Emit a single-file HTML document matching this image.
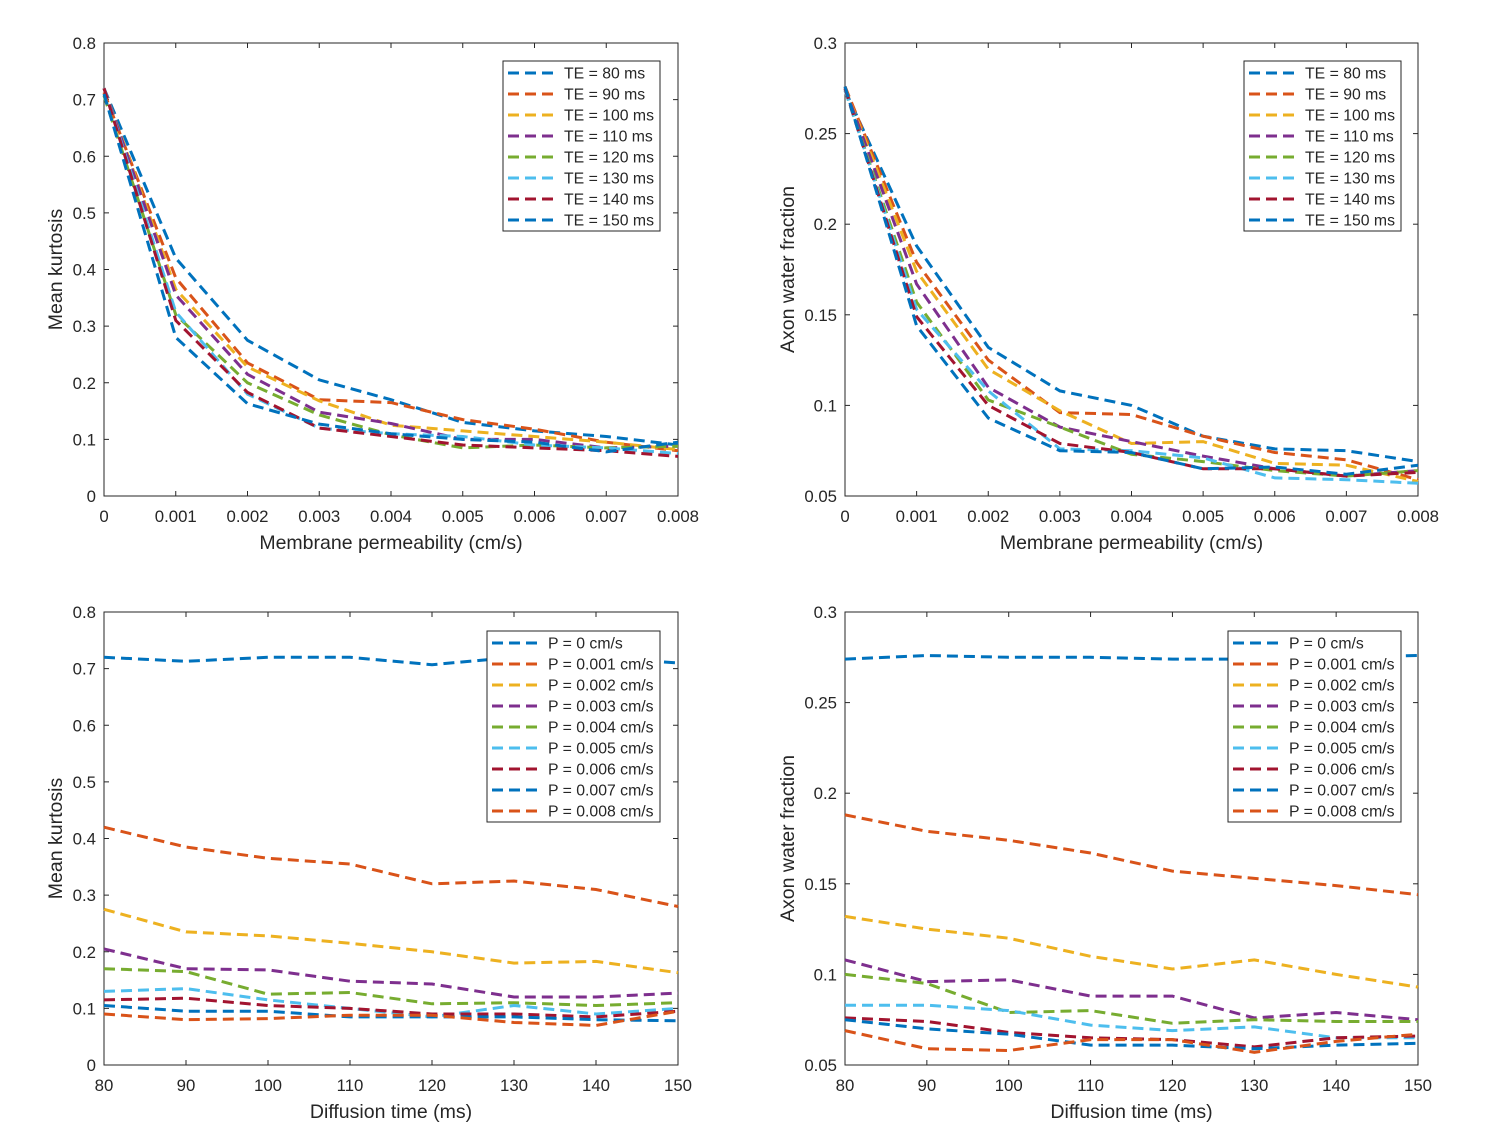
<!DOCTYPE html>
<html><head><meta charset="utf-8"><style>
body{margin:0;background:#fff;font-family:"Liberation Sans",sans-serif}
svg text{font-family:"Liberation Sans",sans-serif;fill:#262626}
</style></head><body>
<svg id="s" width="1491" height="1127"></svg>
<script>
const permX=[0,0.001,0.002,0.003,0.004,0.005,0.006,0.007,0.008];
const teX=[80,90,100,110,120,130,140,150];
const teLabels=["TE = 80 ms","TE = 90 ms","TE = 100 ms","TE = 110 ms","TE = 120 ms","TE = 130 ms","TE = 140 ms","TE = 150 ms"];
const pLabels=["P = 0 cm/s","P = 0.001 cm/s","P = 0.002 cm/s","P = 0.003 cm/s","P = 0.004 cm/s","P = 0.005 cm/s","P = 0.006 cm/s","P = 0.007 cm/s","P = 0.008 cm/s"];
// kurtosis[P][TE]
const kurt=[
[0.72,0.713,0.72,0.72,0.707,0.72,0.72,0.71],
[0.42,0.385,0.365,0.355,0.32,0.325,0.31,0.28],
[0.275,0.235,0.228,0.215,0.2,0.18,0.183,0.163],
[0.205,0.17,0.168,0.148,0.143,0.12,0.12,0.127],
[0.17,0.165,0.125,0.128,0.108,0.11,0.105,0.11],
[0.13,0.135,0.115,0.1,0.085,0.105,0.09,0.1],
[0.115,0.118,0.105,0.1,0.09,0.09,0.085,0.095],
[0.105,0.095,0.095,0.085,0.085,0.085,0.08,0.078],
[0.09,0.08,0.082,0.088,0.088,0.075,0.07,0.095]];
const awf=[
[0.274,0.276,0.275,0.275,0.274,0.274,0.275,0.276],
[0.188,0.179,0.174,0.167,0.157,0.153,0.149,0.144],
[0.132,0.125,0.12,0.11,0.103,0.108,0.1,0.093],
[0.108,0.096,0.097,0.088,0.088,0.076,0.079,0.075],
[0.1,0.095,0.079,0.08,0.073,0.075,0.074,0.074],
[0.083,0.083,0.08,0.072,0.069,0.071,0.065,0.065],
[0.076,0.074,0.068,0.065,0.064,0.06,0.065,0.066],
[0.075,0.07,0.067,0.061,0.061,0.059,0.061,0.062],
[0.069,0.059,0.058,0.064,0.064,0.057,0.063,0.067]];
const permTicks=["0","0.001","0.002","0.003","0.004","0.005","0.006","0.007","0.008"];
const teTicks=[80,90,100,110,120,130,140,150];
const kTicks=[0,0.1,0.2,0.3,0.4,0.5,0.6,0.7,0.8];
const aTicks=[0.05,0.1,0.15,0.2,0.25,0.3];
const colors=["#0072BD","#D95319","#EDB120","#7E2F8E","#77AC30","#4DBEEE","#A2142F","#0072BD","#D95319"];
const NS="http://www.w3.org/2000/svg",S=document.getElementById('s');
function el(t,a,p){const e=document.createElementNS(NS,t);for(const k in a)e.setAttribute(k,a[k]);(p||S).appendChild(e);return e;}
function plot(o){
 const g=el('g',{});
 
 
 const {x0,x1,y0,y1,xmin,xmax,ymin,ymax}=o;
 const X=v=>x0+(v-xmin)/(xmax-xmin)*(x1-x0), Y=v=>y1-(v-ymin)/(ymax-ymin)*(y1-y0);
 el('rect',{x:x0,y:y0,width:x1-x0,height:y1-y0,fill:'#fff',stroke:'#262626','stroke-width':1},g);
 o.xt.forEach((t,i)=>{const v=o.xtv[i],x=X(v);
  el('line',{x1:x,x2:x,y1:y1,y2:y1-5,stroke:'#262626'},g);el('line',{x1:x,x2:x,y1:y0,y2:y0+5,stroke:'#262626'},g);
  const tx=el('text',{x:x,y:y1+26,'text-anchor':'middle','font-size':16.8},g);tx.textContent=t;
  });
 o.yt.forEach(v=>{const y=Y(v);
  el('line',{x1:x0,x2:x0+5,y1:y,y2:y,stroke:'#262626'},g);el('line',{x1:x1,x2:x1-5,y1:y,y2:y,stroke:'#262626'},g);
  const tx=el('text',{x:x0-8,y:y+6,'text-anchor':'end','font-size':16.8},g);tx.textContent=String(v);
  });
 const xl=el('text',{x:(x0+x1)/2,y:y1+53,'text-anchor':'middle','font-size':19.5},g);xl.textContent=o.xlabel;
 
 const yl=el('text',{x:0,y:0,'text-anchor':'middle','font-size':19.5,transform:`translate(${x0-o.yoff},${(y0+y1)/2}) rotate(-90)`},g);yl.textContent=o.ylabel;
 
 o.series.forEach((s,i)=>{
  const d=s.map((v,j)=>(j?'L':'M')+X(o.xs[j]).toFixed(1)+' '+Y(v).toFixed(1)).join(' ');
  const p=el('path',{d:d,fill:'none',stroke:colors[i],'stroke-width':3,'stroke-dasharray':'11 6'},g);
  });
 const L=o.leg, n=o.labels.length;
 const lg=el('g',{},g);
 el('rect',{x:L.x,y:L.y,width:L.w,height:n*21+2,fill:'#fff',stroke:'#262626'},lg);
 o.labels.forEach((t,i)=>{const y=L.y+12+i*21;
  el('line',{x1:L.x+5,x2:L.x+52,y1:y,y2:y,stroke:colors[i],'stroke-width':3,'stroke-dasharray':'11 6'},lg);
  const tx=el('text',{x:L.x+61,y:y+5.5,'font-size':15.8},lg);tx.textContent=t;
  });
}
const T=m=>m[0].map((_,j)=>m.map(r=>r[j]));
plot({name:'kurtosis-vs-permeability',x0:104,x1:678,y0:43,y1:496,xmin:0,xmax:0.008,ymin:0,ymax:0.8,xt:permTicks,xtv:permX,yt:kTicks,xlabel:'Membrane permeability (cm/s)',ylabel:'Mean kurtosis',yoff:42,xs:permX,series:T(kurt),labels:teLabels,leg:{x:503,y:61,w:157}});
plot({name:'awf-vs-permeability',x0:845,x1:1418,y0:43,y1:496,xmin:0,xmax:0.008,ymin:0.05,ymax:0.3,xt:permTicks,xtv:permX,yt:aTicks,xlabel:'Membrane permeability (cm/s)',ylabel:'Axon water fraction',yoff:51,xs:permX,series:T(awf),labels:teLabels,leg:{x:1244,y:61,w:157}});
plot({name:'kurtosis-vs-time',x0:104,x1:678,y0:612,y1:1065,xmin:80,xmax:150,ymin:0,ymax:0.8,xt:teTicks,xtv:teTicks,yt:kTicks,xlabel:'Diffusion time (ms)',ylabel:'Mean kurtosis',yoff:42,xs:teX,series:kurt,labels:pLabels,leg:{x:487,y:631,w:173}});
plot({name:'awf-vs-time',x0:845,x1:1418,y0:612,y1:1065,xmin:80,xmax:150,ymin:0.05,ymax:0.3,xt:teTicks,xtv:teTicks,yt:aTicks,xlabel:'Diffusion time (ms)',ylabel:'Axon water fraction',yoff:51,xs:teX,series:awf,labels:pLabels,leg:{x:1228,y:631,w:173}});
</script>
</body></html>
